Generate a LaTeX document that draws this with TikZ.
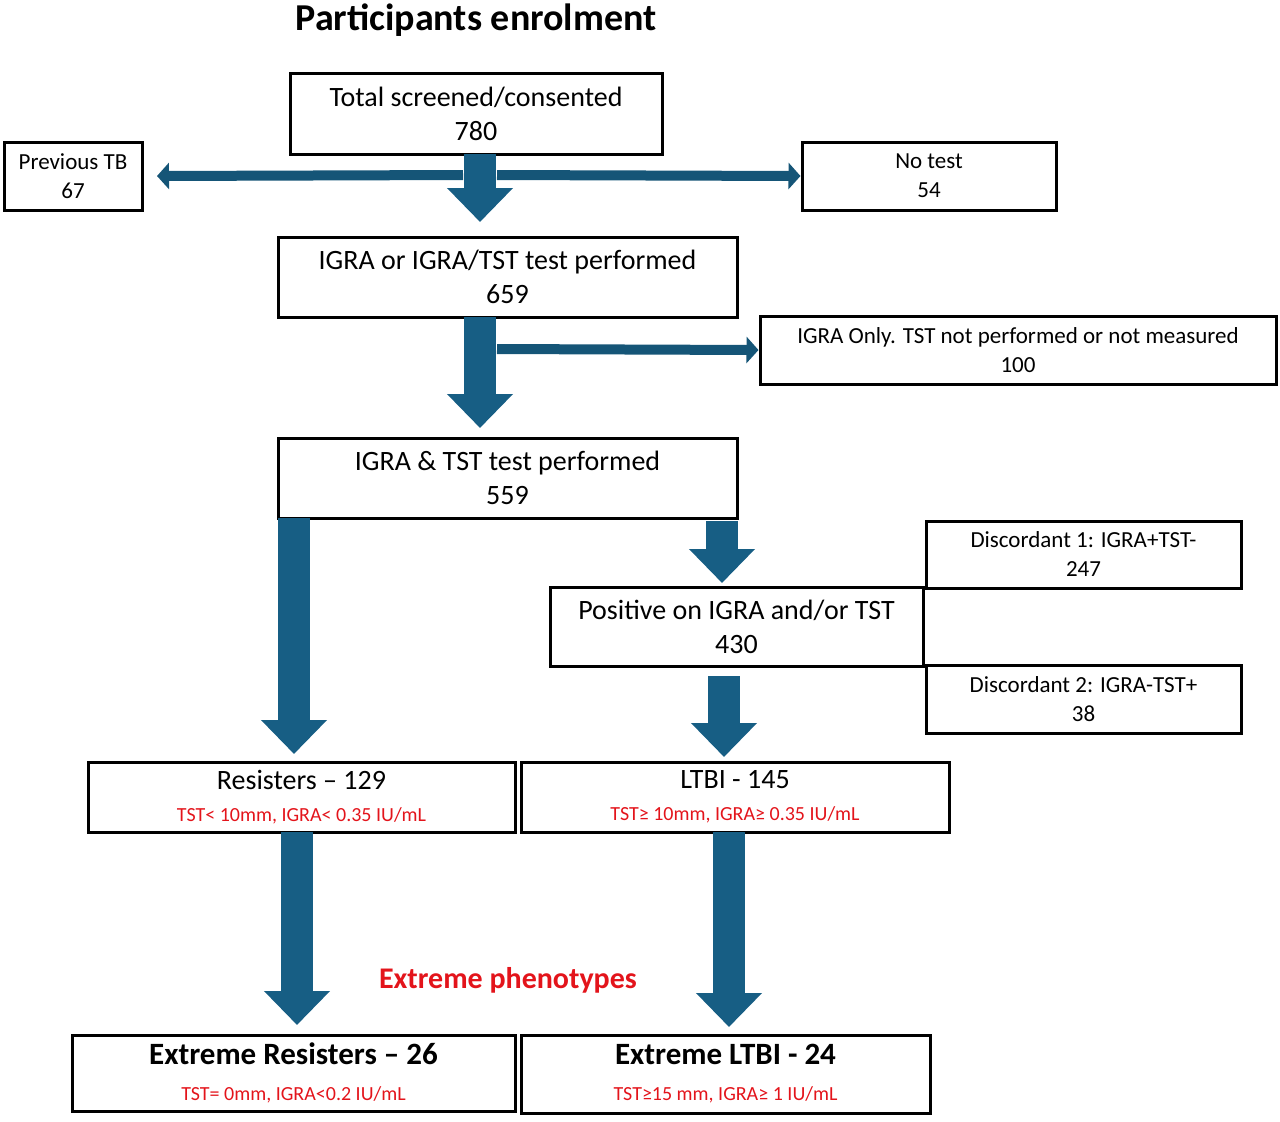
\documentclass[tikz,border=0pt]{standalone}
\usepackage{fontspec}
\setmainfont{Carlito}
\usetikzlibrary{arrows.meta}
\definecolor{ablue}{HTML}{175E84}
\definecolor{tred}{HTML}{E3141B}
\begin{document}
\begin{tikzpicture}[x=0.5pt,y=-0.5pt,
  box/.style={draw=black,line width=1.5pt,align=center,inner sep=0pt,font=\fontsize{14}{17}\selectfont},
  sbox/.style={draw=black,line width=1.5pt,align=center,inner sep=0pt,font=\fontsize{11.5}{14.5}\selectfont},
  big/.style={draw=ablue,line width=16pt,-{Triangle[width=32pt,length=17pt]}},
  thin/.style={draw=ablue!90!black,line width=5pt,-{Triangle[width=13pt,length=6pt]}},
  red/.style={text=tred,font=\fontsize{10}{12}\selectfont}]
\useasboundingbox (0,0) rectangle (1280,1121);
\node[font=\bfseries\fontsize{19}{23}\selectfont] (title) at (476,20) {Participants enrolment};
\node[box,minimum width=372pt*0.5,minimum height=81pt*0.5] (total) at (476,113.5) {Total screened/consented\\780};
\node[sbox,minimum width=138pt*0.5,minimum height=68pt*0.5] (prev) at (73,176) {Previous TB\\67};
\node[sbox,minimum width=254pt*0.5,minimum height=68pt*0.5] (notest) at (929,176) {No test\\54};
\node[box,minimum width=459pt*0.5,minimum height=80pt*0.5] (igra) at (507.5,277) {IGRA or IGRA/TST test performed\\659};
\node[sbox,minimum width=516pt*0.5,minimum height=68pt*0.5] (only) at (1018,350) {IGRA Only. TST not performed or not measured\\100};
\node[box,minimum width=459pt*0.5,minimum height=80pt*0.5] (both) at (507.5,478) {IGRA \& TST test performed\\559};
\node[sbox,minimum width=315pt*0.5,minimum height=67pt*0.5] (d1) at (1083.5,554.5) {Discordant 1: IGRA+TST-\\247};
\node[box,minimum width=373pt*0.5,minimum height=79pt*0.5] (pos) at (736.5,626.5) {Positive on IGRA and/or TST\\430};
\node[sbox,minimum width=315pt*0.5,minimum height=68pt*0.5] (d2) at (1083.5,699) {Discordant 2: IGRA-TST+\\38};
\node[box,minimum width=427pt*0.5,minimum height=70pt*0.5] (res) at (301.5,797) {Resisters -- 129\\[-1pt]{\color{tred}\fontsize{10}{12}\selectfont TST< 10mm, IGRA< 0.35 IU/mL}};
\node[box,minimum width=428pt*0.5,minimum height=70pt*0.5] (ltbi) at (735,797) {LTBI - 145\\[-1pt]{\color{tred}\fontsize{10}{12}\selectfont TST≥ 10mm, IGRA≥ 0.35 IU/mL}};
\node[red,font=\bfseries\fontsize{15}{18}\selectfont] (ext) at (508,980) {Extreme phenotypes};
\node[box,minimum width=443pt*0.5,minimum height=76pt*0.5] (eres) at (293.5,1073) {{\bfseries\fontsize{15.5}{18}\selectfont Extreme Resisters -- 26}\\[1pt]{\color{tred}\fontsize{10}{12}\selectfont TST= 0mm, IGRA<0.2 IU/mL}};
\node[box,minimum width=409pt*0.5,minimum height=78pt*0.5] (eltbi) at (725.5,1074) {{\bfseries\fontsize{15.5}{18}\selectfont Extreme LTBI - 24}\\[1pt]{\color{tred}\fontsize{10}{12}\selectfont TST≥15 mm, IGRA≥ 1 IU/mL}};
% horizontal arrows
\coordinate (hl) at (463,175); \coordinate (hr) at (497,175);
\coordinate (ol) at (497,349);
\draw[thin] (hl) -- (prev.east -| 157,0);
\draw[thin] (hr) -- (notest.west);
\draw[thin] (ol) -- (only.west);
% big arrows
\draw[big] (480,154) -- (480,222);
\draw[big] (480,317) -- (480,428);
\draw[big] (294,518) -- (294,754);
\draw[big] (722,521) -- (722,583);
\draw[big] (724,676) -- (724,757);
\draw[big] (297,832) -- (297,1025);
\draw[big] (729,832) -- (729,1027);
\end{tikzpicture}
\end{document}
